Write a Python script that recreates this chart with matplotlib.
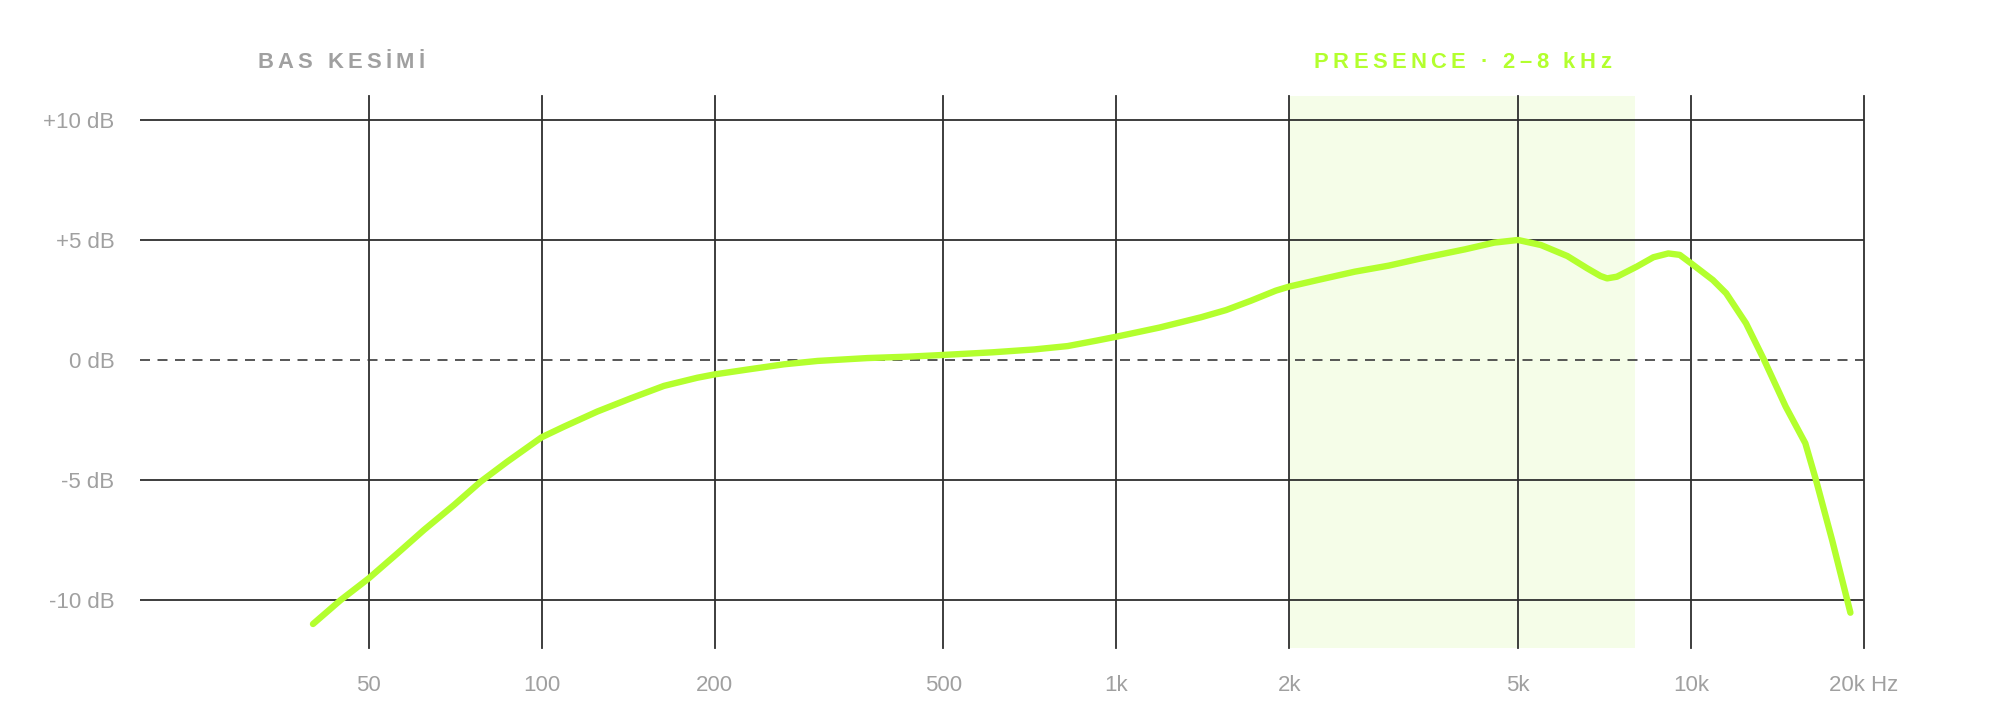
import matplotlib
matplotlib.use('Agg')
import matplotlib.pyplot as plt
import matplotlib.ticker as mticker
import matplotlib.transforms as mtransforms
from matplotlib.font_manager import FontProperties, findfont
from matplotlib.ft2font import FT2Font

plt.rcParams['font.family'] = ['Liberation Sans', 'DejaVu Sans']

# Frequency response
freq_hz = [40.0, 44.7, 50, 56.1, 62.4, 70.4, 78.3, 87.1, 100, 109.3, 124.9,
           142.8, 163.2, 186.5, 200, 227.8, 264, 302, 369, 436, 500, 609,
           720, 823, 925, 1000, 1188, 1404, 1552, 1715, 1895, 2000, 2239,
           2600, 2977, 3400, 4042, 4546, 5000, 5481, 6094, 6596, 6957, 7145,
           7431, 8046, 8600, 9131, 9558, 10000, 10918, 11512, 12465, 13403,
           14612, 15810, 16500, 17600, 18940]
gain_db = [-11.0, -10.0, -9.10, -8.06, -7.08, -6.04, -5.07, -4.24, -3.22,
           -2.78, -2.15, -1.6, -1.08, -0.74, -0.6, -0.4, -0.18, -0.04, 0.08,
           0.14, 0.21, 0.32, 0.44, 0.58, 0.81, 0.97, 1.35, 1.78, 2.08, 2.47,
           2.89, 3.06, 3.33, 3.68, 3.93, 4.24, 4.61, 4.89, 5.0, 4.79, 4.33,
           3.82, 3.5, 3.4, 3.47, 3.89, 4.28, 4.44, 4.38, 4.03, 3.33, 2.78,
           1.53, 0.0, -1.94, -3.47, -5.0, -7.5, -10.53]

x_ticks = [50, 100, 200, 500, 1000, 2000, 5000, 10000, 20000]
x_labels = ['50', '100', '200', '500', '1k', '2k', '5k', '10k', '20k Hz']
y_ticks = [-10, -5, 0, 5, 10]
y_labels = ['-10 dB', '-5 dB', '0 dB', '+5 dB', '+10 dB']

presence_band = (2000, 8000)
bass_region = (20, 100)

GREEN = '#b3ff2e'
GRID = '#2e2e2e'
LABEL = '#a0a0a0'


def spaced_text(ax, x, y, s, color, size=15.8, spacing=3.2):
    # letter-spaced header, centred on x (data) at y (axes fraction)
    prop = FontProperties(family='Liberation Sans', weight='bold', size=size)
    font = FT2Font(findfont(prop))
    font.set_size(size, 72)
    adv = [font.load_char(ord(ch)).linearHoriAdvance / 65536 for ch in s]
    total = sum(adv) + spacing * (len(s) - 1)
    base = ax.get_xaxis_transform()
    pos = -total / 2
    for ch, a in zip(s, adv):
        tr = mtransforms.offset_copy(base, fig=ax.figure, x=pos, y=0, units='points')
        ax.text(x, y, ch, transform=tr, fontproperties=prop, color=color,
                ha='left', va='baseline', clip_on=False)
        pos += a + spacing


fig = plt.figure(figsize=(20, 7.2), dpi=100)
ax = fig.add_axes([0.07, 0.1, 0.862, 0.7667])

ax.set_xscale('log')
ax.set_xlim(20, 20000)
ax.set_ylim(-12, 11)

ax.axvspan(*presence_band, color='#f5fde8', lw=0, zorder=0)

for v in x_ticks:
    ax.axvline(v, color=GRID, lw=1.3, zorder=1, clip_on=False)
for v in y_ticks:
    if v == 0:
        ax.axhline(v, color='#3a3a3a', lw=1.2, dashes=(6, 4.5), zorder=1)
    else:
        ax.axhline(v, color=GRID, lw=1.3, zorder=1)

ax.plot(freq_hz, gain_db, color=GREEN, lw=4.6, solid_capstyle='round',
        solid_joinstyle='round', zorder=3)

ax.set_xticks(x_ticks)
ax.set_xticklabels(x_labels)
ax.xaxis.set_minor_locator(mticker.NullLocator())
ax.set_yticks(y_ticks)
ax.set_yticklabels(y_labels)
ax.tick_params(axis='both', length=0, labelsize=16, labelcolor=LABEL)
ax.tick_params(axis='x', pad=19.5)
ax.tick_params(axis='y', pad=18.5)
for sp in ax.spines.values():
    sp.set_visible(False)

bass_mid = (bass_region[0] * bass_region[1]) ** 0.5
pres_mid = (presence_band[0] * presence_band[1]) ** 0.5
spaced_text(ax, bass_mid, 1.0513, 'BAS KESİMİ', LABEL)
spaced_text(ax, pres_mid, 1.0513, 'PRESENCE · 2–8 kHz', GREEN)

fig.savefig('out.png', dpi=100, facecolor='white')
